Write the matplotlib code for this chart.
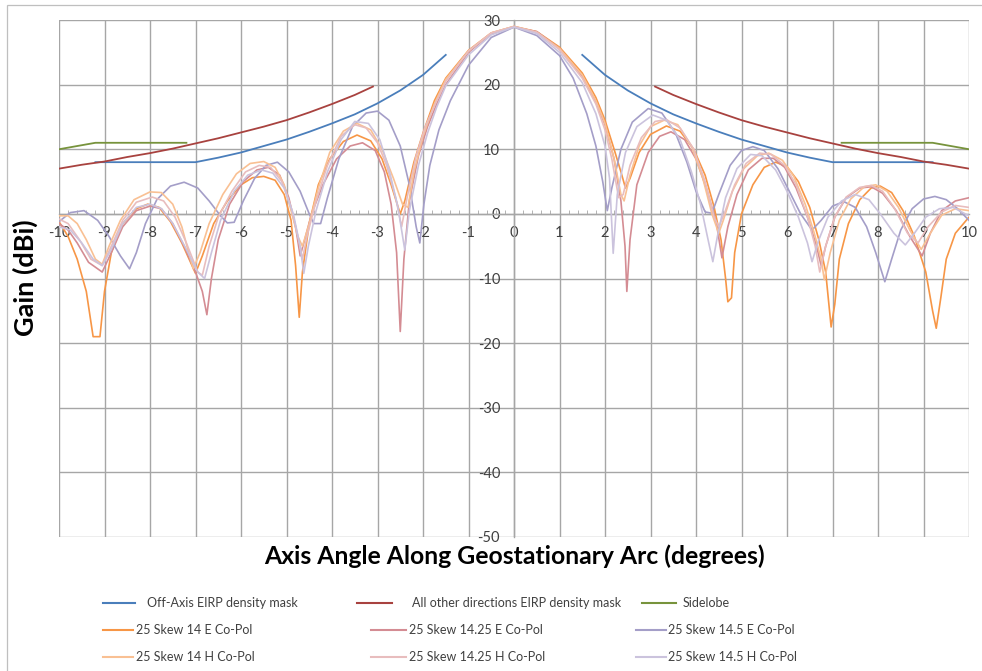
import numpy as np
import matplotlib
matplotlib.use("Agg")
import matplotlib.pyplot as plt
from matplotlib.ticker import MultipleLocator
from matplotlib.lines import Line2D
from matplotlib.patches import Rectangle

plt.rcParams['font.family'] = ['Lato', 'DejaVu Sans']
plt.rcParams['axes.unicode_minus'] = False

# masks
offaxis_x = [-9.2, -7.0, -6.5, -6.0, -5.5, -5.0, -4.5, -4.0, -3.5, -3.0, -2.5, -2.0, -1.5, np.nan,
             1.5, 2.0, 2.5, 3.0, 3.5, 4.0, 4.5, 5.0, 5.5, 6.0, 6.5, 7.0, 9.2]
offaxis_y = [8.0, 8.0, 8.7, 9.5, 10.5, 11.5, 12.7, 14.0, 15.4, 17.1, 19.1, 21.5, 24.6, np.nan,
             24.6, 21.5, 19.1, 17.1, 15.4, 14.0, 12.7, 11.5, 10.5, 9.5, 8.7, 8.0, 8.0]

other_x = [-10.0, -9.5, -9.0, -8.5, -8.0, -7.5, -7.0, -6.5, -6.0, -5.5, -5.0, -4.5, -4.0, -3.5, -3.1, np.nan,
           3.1, 3.5, 4.0, 4.5, 5.0, 5.5, 6.0, 6.5, 7.0, 7.5, 8.0, 8.5, 9.0, 9.5, 10.0]
other_y = [7.0, 7.6, 8.1, 8.8, 9.4, 10.1, 10.9, 11.7, 12.6, 13.5, 14.5, 15.7, 17.0, 18.4, 19.7, np.nan,
           19.7, 18.4, 17.0, 15.7, 14.5, 13.5, 12.6, 11.7, 10.9, 10.1, 9.4, 8.8, 8.1, 7.6, 7.0]

sidelobe_x = [-10.0, -9.2, -7.2, np.nan, 7.2, 9.2, 10.0]
sidelobe_y = [10.0, 11.0, 11.0, np.nan, 11.0, 11.0, 10.0]

# measured patterns
e14_x = [-10.0, -9.8, -9.6, -9.4, -9.25, -9.1, -9.0, -8.85, -8.6, -8.3, -8.05, -7.8, -7.55, -7.3, -7.0,
         -6.85, -6.6, -6.3, -6.0, -5.75, -5.5, -5.25, -5.05, -4.9, -4.8, -4.72, -4.65, -4.5, -4.3, -4.05,
         -3.75, -3.45, -3.15, -2.9, -2.7, -2.5, -2.4, -2.2, -2.0, -1.75, -1.5, -1.0, -0.5, 0.0, 0.5, 1.0,
         1.5, 1.8, 2.0, 2.2, 2.35, 2.45, 2.55, 2.75, 3.0, 3.35, 3.65, 3.95, 4.2, 4.4, 4.55, 4.65, 4.7,
         4.78, 4.85, 5.0, 5.25, 5.5, 5.75, 6.0, 6.25, 6.5, 6.7, 6.85, 6.97, 7.05, 7.15, 7.35, 7.6, 7.85,
         8.05, 8.3, 8.55, 8.8, 9.05, 9.2, 9.28, 9.38, 9.5, 9.7, 10.0]
e14_y = [-1.2, -3.5, -7.0, -12.0, -19.0, -19.0, -12.0, -6.0, -1.5, 0.8, 1.5, 1.0, -1.2, -4.5, -9.2,
         -6.5, -1.5, 2.0, 4.5, 5.6, 5.8, 5.2, 3.0, -1.0, -8.0, -16.0, -9.0, -1.5, 4.5, 8.5,
         11.2, 12.2, 11.3, 8.5, 4.5, 0.0, 2.0, 8.0, 12.5, 17.5, 21.0, 25.3, 28.0, 29.0, 28.2, 25.8,
         21.8, 18.0, 14.5, 10.0, 6.5, 4.0, 5.5, 9.5, 12.3, 13.6, 12.8, 10.0, 6.0, 1.0, -4.0, -10.0, -13.6,
         -13.0, -6.0, 0.0, 4.5, 7.2, 8.0, 7.3, 5.0, 1.0, -4.0, -9.0, -17.5, -14.0, -7.0, -1.5, 2.2, 4.0,
         4.3, 3.3, 0.5, -3.5, -9.0, -15.0, -17.7, -13.0, -7.0, -3.0, -0.5]

h14_x = [-10.0, -9.8, -9.6, -9.4, -9.2, -9.05, -8.9, -8.65, -8.35, -8.0, -7.75, -7.5, -7.3, -7.15, -7.05,
         -6.9, -6.7, -6.4, -6.1, -5.8, -5.5, -5.25, -5.05, -4.9, -4.75, -4.65, -4.5, -4.3, -4.05, -3.75,
         -3.45, -3.15, -2.9, -2.65, -2.45, -2.33, -2.2, -2.0, -1.75, -1.5, -1.0, -0.5, 0.0, 0.5, 1.0, 1.5,
         1.8, 2.0, 2.2, 2.35, 2.42, 2.55, 2.75, 3.0, 3.3, 3.6, 3.9, 4.15, 4.35, 4.5, 4.6, 4.8, 5.05, 5.35,
         5.6, 5.9, 6.15, 6.4, 6.6, 6.75, 6.82, 6.95, 7.15, 7.4, 7.7, 7.95, 8.2, 8.45, 8.7, 8.95, 9.15,
         9.4, 9.7, 10.0]
h14_y = [-0.3, -0.3, -1.5, -4.0, -7.0, -7.8, -5.0, -1.0, 2.2, 3.4, 3.3, 1.5, -2.0, -6.0, -8.5,
         -6.0, -1.5, 3.0, 6.2, 7.8, 8.1, 7.2, 4.5, 0.5, -3.5, -5.0, -1.5, 4.0, 9.5, 12.8,
         14.0, 13.0, 10.0, 5.5, 1.5, 1.0, 6.5, 12.0, 17.0, 20.8, 25.2, 28.0, 29.0, 28.1, 25.6, 21.5,
         17.5, 14.0, 8.5, 3.0, 2.0, 6.0, 10.5, 13.5, 14.5, 13.8, 10.5, 5.5, 0.0, -3.0, -1.0, 3.5, 7.0, 9.0,
         9.4, 8.3, 5.8, 1.5, -3.0, -7.0, -10.2, -6.0, -1.0, 2.3, 4.2, 4.5, 3.5, 1.0, -2.5, -5.5, -3.0,
         -0.2, 0.8, 0.5]

e1425_x = [-10.0, -9.8, -9.6, -9.35, -9.05, -8.85, -8.6, -8.3, -8.0, -7.75, -7.5, -7.25, -7.0, -6.85,
           -6.75, -6.65, -6.5, -6.25, -5.95, -5.65, -5.4, -5.15, -4.95, -4.8, -4.7, -4.6, -4.45, -4.2,
           -3.9, -3.6, -3.33, -3.05, -2.85, -2.7, -2.58, -2.5, -2.42, -2.3, -2.1, -1.9, -1.7, -1.5, -1.0,
           -0.5, 0.0, 0.5, 1.0, 1.5, 1.8, 2.0, 2.2, 2.35, 2.44, 2.48, 2.55, 2.7, 2.95, 3.2, 3.45, 3.75,
           4.0, 4.25, 4.45, 4.57, 4.7, 4.9, 5.15, 5.45, 5.7, 5.95, 6.2, 6.45, 6.65, 6.75, 6.85, 7.05, 7.3,
           7.6, 7.85, 8.1, 8.4, 8.7, 8.97, 9.15, 9.4, 9.7, 10.0]
e1425_y = [-1.5, -2.5, -4.5, -7.5, -9.0, -6.0, -2.0, 0.5, 1.2, 0.8, -1.5, -5.0, -9.0, -12.0,
           -15.6, -10.0, -4.0, 1.5, 5.0, 6.8, 7.2, 6.0, 2.5, -2.0, -6.5, -4.0, 0.0, 4.5,
           8.5, 10.5, 11.0, 9.8, 6.5, 1.5, -6.0, -18.2, -7.0, 2.0, 9.0, 13.5, 17.0, 20.0, 25.0,
           27.9, 28.9, 28.2, 25.6, 21.3, 17.3, 13.8, 8.5, 2.0, -5.0, -12.0, -4.0, 4.5, 9.5, 12.0, 12.7, 11.5,
           8.5, 3.5, -1.5, -6.8, -2.0, 3.0, 6.8, 8.6, 8.6, 7.2, 4.0, -0.5, -5.0, -8.0, -5.0, -0.5, 2.5,
           4.0, 4.2, 3.2, 0.5, -3.5, -6.5, -3.0, 0.5, 2.0, 2.5]

h1425_x = [-10.0, -9.8, -9.55, -9.3, -9.05, -8.85, -8.6, -8.3, -7.95, -7.7, -7.45, -7.2, -6.95, -6.85,
           -6.7, -6.5, -6.2, -5.9, -5.6, -5.35, -5.1, -4.9, -4.75, -4.65, -4.55, -4.35, -4.1, -3.8, -3.5,
           -3.25, -3.0, -2.8, -2.6, -2.47, -2.35, -2.15, -1.95, -1.7, -1.5, -1.0, -0.5, 0.0, 0.5, 1.0, 1.5,
           1.8, 2.0, 2.15, 2.3, 2.4, 2.55, 2.8, 3.1, 3.35, 3.65, 3.95, 4.2, 4.4, 4.5, 4.62, 4.85, 5.1, 5.4,
           5.65, 5.95, 6.2, 6.45, 6.62, 6.72, 6.85, 7.05, 7.3, 7.6, 7.85, 8.1, 8.35, 8.65, 8.88, 9.1, 9.4,
           9.7, 10.0]
h1425_y = [-0.8, -1.5, -4.0, -7.0, -8.0, -5.0, -1.0, 1.8, 2.6, 2.0, -0.5, -4.5, -9.0, -9.5,
           -5.0, -0.5, 3.5, 6.5, 7.5, 7.2, 5.0, 1.0, -3.5, -7.0, -3.5, 2.0, 7.5, 12.0, 13.8,
           13.3, 11.0, 7.5, 2.5, -2.0, 2.5, 9.0, 13.5, 17.5, 20.5, 25.2, 28.0, 29.0, 28.1, 25.4, 21.0,
           17.0, 13.0, 8.5, 2.5, 3.0, 7.5, 11.8, 14.3, 14.6, 13.3, 10.0, 5.0, -0.5, -2.0, 0.0, 4.5, 7.8, 9.4,
           9.2, 7.5, 4.5, -0.5, -5.0, -9.0, -5.0, -0.5, 2.6, 4.1, 4.4, 3.5, 1.0, -3.0, -4.5, -2.0, 0.3,
           1.3, 1.0]

e145_x = [-10.0, -9.75, -9.45, -9.15, -8.9, -8.65, -8.45, -8.3, -8.1, -7.85, -7.55, -7.25, -6.95, -6.7,
          -6.45, -6.3, -6.15, -5.95, -5.7, -5.45, -5.2, -4.95, -4.7, -4.5, -4.4, -4.25, -4.1, -3.85,
          -3.55, -3.25, -3.0, -2.75, -2.5, -2.3, -2.15, -2.07, -1.98, -1.85, -1.65, -1.4, -1.0, -0.5,
          0.0, 0.5, 1.0, 1.3, 1.6, 1.8, 1.95, 2.05, 2.15, 2.35, 2.6, 2.95, 3.25, 3.55, 3.8, 4.0, 4.2,
          4.35, 4.5, 4.75, 5.0, 5.25, 5.5, 5.8, 6.05, 6.3, 6.55, 6.75, 7.0, 7.25, 7.5, 7.75, 7.95, 8.15,
          8.3, 8.5, 8.75, 9.0, 9.25, 9.5, 9.75, 10.0]
e145_y = [-1.2, 0.2, 0.5, -1.0, -3.5, -6.5, -8.5, -6.0, -1.5, 2.2, 4.3, 4.9, 4.0, 2.0,
          -0.3, -1.4, -1.3, 2.0, 5.5, 7.5, 8.0, 6.5, 3.5, 0.0, -1.5, -1.5, 2.5, 8.5,
          13.5, 15.6, 15.9, 14.5, 10.5, 4.5, -2.0, -4.5, 1.5, 7.5, 13.0, 17.5, 23.0, 27.3,
          28.9, 27.6, 24.5, 21.0, 15.5, 10.5, 5.0, 0.5, 4.0, 10.0, 14.2, 16.3, 15.6, 12.5, 8.0, 3.5, 0.3,
          0.1, 3.0, 7.5, 9.8, 10.4, 9.8, 7.0, 3.5, 0.0, -2.5, -1.0, 1.2, 1.9, 1.0, -2.0, -6.0, -10.5,
          -7.0, -2.5, 0.8, 2.3, 2.7, 2.2, 0.8, -1.0]

h145_x = [-10.0, -9.75, -9.5, -9.25, -9.05, -8.85, -8.6, -8.3, -8.0, -7.75, -7.5, -7.2, -6.95, -6.8,
          -6.65, -6.45, -6.15, -5.85, -5.55, -5.3, -5.05, -4.85, -4.7, -4.62, -4.52, -4.35, -4.1, -3.8,
          -3.5, -3.2, -2.95, -2.75, -2.55, -2.4, -2.3, -2.1, -1.9, -1.7, -1.5, -1.0, -0.5, 0.0, 0.5, 1.0,
          1.5, 1.8, 2.0, 2.1, 2.18, 2.27, 2.45, 2.7, 3.05, 3.35, 3.65, 3.9, 4.1, 4.25, 4.37, 4.47, 4.65,
          4.9, 5.2, 5.45, 5.75, 6.0, 6.25, 6.45, 6.55, 6.7, 6.9, 7.2, 7.5, 7.8, 8.05, 8.35, 8.6, 8.8,
          9.05, 9.35, 9.65, 10.0]
h145_y = [-2.0, -2.5, -4.5, -7.0, -8.0, -5.5, -1.5, 1.0, 1.5, 0.8, -1.5, -5.5, -9.0, -10.0,
          -6.0, -1.0, 3.5, 6.0, 6.8, 6.3, 4.0, 0.0, -5.0, -9.2, -5.0, 0.5, 6.5, 11.5,
          14.3, 14.0, 11.5, 7.0, 1.0, -5.6, 0.5, 7.5, 12.5, 16.5, 19.8, 24.6, 27.7, 28.9, 27.9, 25.0,
          20.3, 15.5, 10.5, 5.5, -6.1, 3.0, 9.5, 13.5, 15.3, 14.5, 11.5, 6.5, 1.5, -3.5, -7.4, -3.5, 2.5,
          7.0, 9.2, 9.0, 6.8, 3.5, -0.5, -4.5, -7.4, -4.0, -0.5, 2.0, 3.0, 2.2, 0.0, -3.0, -4.8, -3.0,
          -0.5, 0.8, 1.0, -0.3]

series = [
    ("Off-Axis EIRP density mask", offaxis_x, offaxis_y, "#4A7EBB"),
    ("All other directions EIRP density mask", other_x, other_y, "#A8423F"),
    ("Sidelobe", sidelobe_x, sidelobe_y, "#77933C"),
    ("25 Skew 14 E Co-Pol", e14_x, e14_y, "#F79646"),
    ("25 Skew 14.25 E Co-Pol", e1425_x, e1425_y, "#D48C93"),
    ("25 Skew 14.5 E Co-Pol", e145_x, e145_y, "#A49EC8"),
    ("25 Skew 14 H Co-Pol", h14_x, h14_y, "#F9C093"),
    ("25 Skew 14.25 H Co-Pol", h1425_x, h1425_y, "#E8BDBE"),
    ("25 Skew 14.5 H Co-Pol", h145_x, h145_y, "#CBC3DD"),
]

W, H = 982, 671
fig = plt.figure(figsize=(W / 100, H / 100), dpi=100)
ax = fig.add_axes([59 / W, 1 - 537 / H, 910 / W, 517 / H])

# outer chart frame
fig.patches.append(Rectangle((7 / W, -0.2), 1.2, 1.2 - 5 / H, transform=fig.transFigure,
                             fill=False, ec="#BFBFBF", lw=0.9))

# patterns first, masks on top
for name, xs, ys, col in series[3:]:
    ax.plot(xs, ys, color=col, lw=1.2, zorder=3, solid_joinstyle="round")
for name, xs, ys, col in series[:3]:
    ax.plot(xs, ys, color=col, lw=1.3, zorder=4)

ax.set_xlim(-10, 10)
ax.set_ylim(-50, 30)
ax.xaxis.set_major_locator(MultipleLocator(1))
ax.xaxis.set_minor_locator(MultipleLocator(0.2))
ax.yaxis.set_major_locator(MultipleLocator(10))
ax.grid(True, which="major", color="#A6A6A6", lw=1.0, zorder=0)
ax.set_axisbelow(True)

for s in ["top", "right"]:
    ax.spines[s].set_visible(False)
ax.spines["left"].set_position(("data", 0))
ax.spines["bottom"].set_position(("data", 0))
for s in ["left", "bottom"]:
    ax.spines[s].set_color("#A6A6A6")
    ax.spines[s].set_linewidth(1.0)

ax.tick_params(axis="x", which="major", length=0, pad=9, labelsize=10.5, labelcolor="#404040")
ax.tick_params(axis="x", which="minor", direction="in", length=3, color="#A6A6A6")
ax.tick_params(axis="y", which="major", length=0, pad=10, labelsize=10.5, labelcolor="#404040")
ax.set_xticks(range(-10, 11))
ax.set_xticklabels([str(v) for v in range(-10, 11)])
ax.set_yticks(range(-50, 31, 10))
ax.set_yticklabels([str(v) for v in range(-50, 31, 10)])

fig.text(25 / W, 1 - 278 / H, "Gain (dBi)", rotation=90, ha="center", va="center",
         fontsize=19.5, fontweight="bold")
fig.text(514 / W, 1 - 556 / H, "Axis Angle Along Geostationary Arc (degrees)", ha="center",
         va="center", fontsize=17.8, fontweight="bold")

# legend laid out like the spreadsheet one
legend_rows = [603, 630, 657]
legend_spots = [
    (103, 135, 147), (357, 392, 412), (642, 676, 683),
    (103, 133, 136), (371, 406, 409), (636, 666, 668),
    (103, 133, 136), (371, 406, 409), (636, 666, 668),
]
for i, (name, xs, ys, col) in enumerate(series):
    x0, x1, xt = legend_spots[i]
    yy = 1 - legend_rows[i // 3] / H
    fig.add_artist(Line2D([x0 / W, x1 / W], [yy, yy], transform=fig.transFigure, color=col, lw=1.5))
    fig.text(xt / W, yy, name, ha="left", va="center", fontsize=9, color="#404040")

fig.savefig("out.png", dpi=100)
